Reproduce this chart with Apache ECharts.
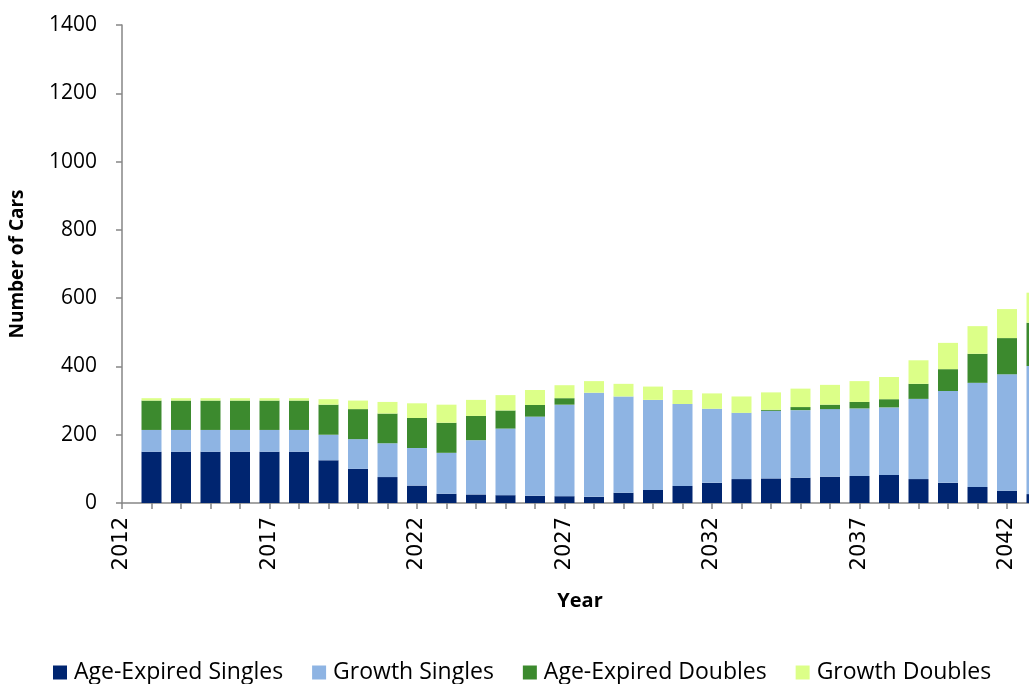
<!DOCTYPE html>
<html>
<head>
<meta charset="utf-8">
<script src="https://cdn.jsdelivr.net/npm/echarts@6/dist/echarts.min.js"></script>
<style>
  html, body { margin: 0; padding: 0; background: #fff; }
  #chart { width: 1029px; height: 684px; }
</style>
</head>
<body>
<div id="chart"></div>
<script>
// Projected fleet replacement by year (number of cars)
const years = [2013, 2014, 2015, 2016, 2017, 2018, 2019, 2020, 2021, 2022,
               2023, 2024, 2025, 2026, 2027, 2028, 2029, 2030, 2031, 2032,
               2033, 2034, 2035, 2036, 2037, 2038, 2039, 2040, 2041, 2042, 2043];
const ageExpiredSingles = [150, 150, 150, 150, 150, 150, 125, 100, 76, 51,
                           27, 25, 23, 21, 20, 18, 30, 38, 50, 59,
                           70, 72, 74, 77, 79, 82, 70, 59, 47, 36, 26];
const growthSingles = [64, 64, 64, 64, 64, 64, 75, 87, 99, 110,
                       120, 159, 195, 232, 268, 305, 282, 264, 240, 217,
                       194, 198, 198, 198, 198, 198, 235, 269, 305, 341, 375];
const ageExpiredDoubles = [86, 86, 86, 86, 86, 86, 88, 88, 87, 88,
                           88, 71, 53, 34, 19, 0, 0, 0, 0, 0,
                           0, 3, 9, 13, 19, 24, 44, 64, 85, 106, 127];
const growthDoubles = [7, 7, 7, 7, 7, 7, 16, 25, 34, 43,
                       53, 47, 45, 44, 38, 34, 37, 39, 41, 45,
                       48, 51, 54, 58, 61, 65, 69, 77, 81, 85, 88];

const seriesNames = ['Age-Expired Singles', 'Growth Singles', 'Age-Expired Doubles', 'Growth Doubles'];
const seriesColors = ['#002570', '#8EB4E3', '#3C8A2E', '#DCFF88'];
const seriesValues = [ageExpiredSingles, growthSingles, ageExpiredDoubles, growthDoubles];

// The year axis runs one empty slot before and after the data years
const firstYear = years[0] - 1;
const lastYear = years[years.length - 1] + 1;
const axisYears = [String(firstYear)].concat(years.map(String), [String(lastYear)]);

const axisGray = '#868686';
const chart = echarts.init(document.getElementById('chart'));

chart.setOption({
  animation: false,
  color: seriesColors,
  grid: { left: 122, top: 25, bottom: 181, right: -37, containLabel: false, outerBoundsMode: 'none' },
  legend: {
    bottom: -5,
    left: 48,
    itemWidth: 14,
    itemHeight: 14,
    itemGap: 29,
    icon: 'rect',
    textStyle: { fontFamily: 'Open Sans', fontSize: 23, color: '#000', padding: [0, 0, 0, 2] },
    data: seriesNames
  },
  xAxis: {
    type: 'category',
    data: axisYears,
    boundaryGap: false,
    name: 'Year',
    nameLocation: 'middle',
    nameGap: 88,
    nameTextStyle: { fontFamily: 'Open Sans', fontWeight: 'bold', fontSize: 20, color: '#000', padding: [0, 28, 0, 0] },
    splitLine: { show: false },
    axisLine: { lineStyle: { color: axisGray, width: 1.5 } },
    axisTick: { interval: 0, lineStyle: { color: axisGray, width: 1.5 }, length: 6 },
    axisLabel: {
      interval: 4,
      rotate: 90,
      margin: 14,
      fontFamily: 'DejaVu Sans',
      fontSize: 21,
      color: '#000'
    }
  },
  yAxis: {
    type: 'value',
    min: 0,
    max: 1400,
    interval: 200,
    name: 'Number of Cars',
    nameLocation: 'middle',
    nameGap: 95,
    nameTextStyle: { fontFamily: 'Open Sans', fontWeight: 'bold', fontSize: 19, color: '#000' },
    splitLine: { show: false },
    axisLine: { show: true, lineStyle: { color: axisGray, width: 1.5 } },
    axisTick: { show: true, lineStyle: { color: axisGray, width: 1.5 }, length: 6 },
    axisLabel: {
      margin: 25,
      fontFamily: 'Open Sans',
      fontSize: 21,
      color: '#000',
      formatter: v => String(v)
    }
  },
  series: seriesNames.map((name, i) => ({
    name: name,
    type: 'bar',
    stack: 'cars',
    barWidth: 20,
    itemStyle: { color: seriesColors[i] },
    data: [null].concat(seriesValues[i], [null])
  }))
});
</script>
</body>
</html>
